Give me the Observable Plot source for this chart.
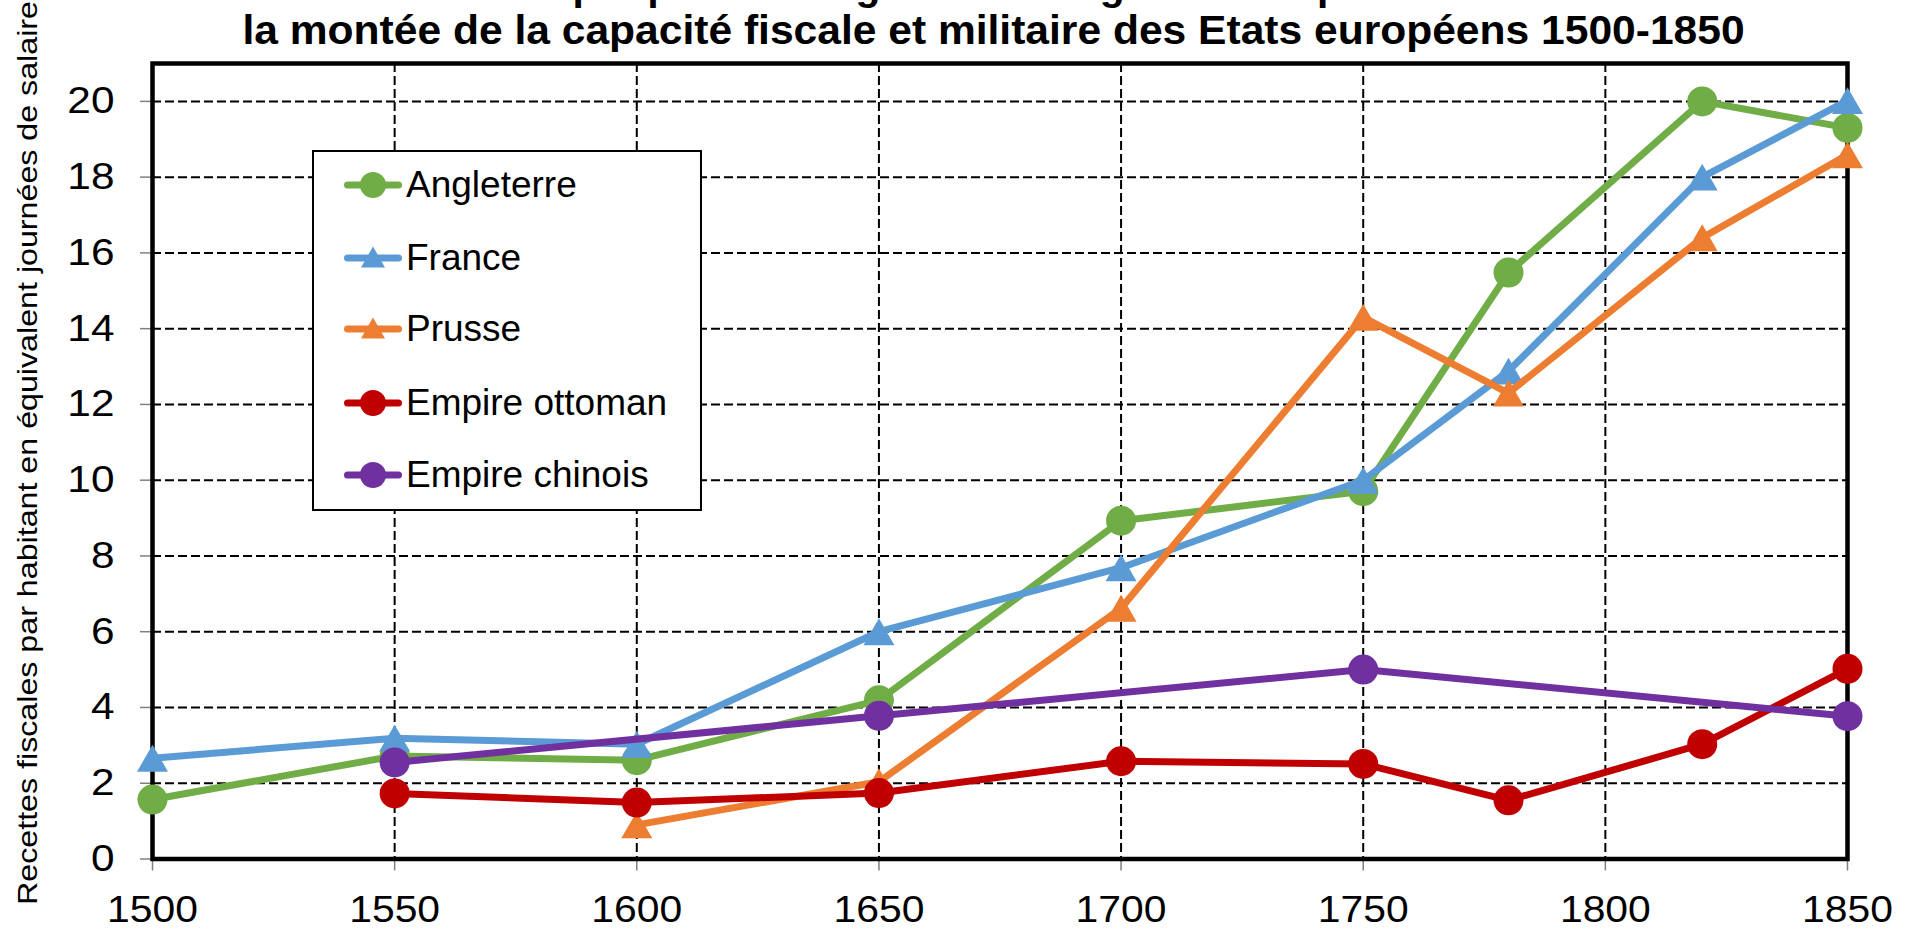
<!DOCTYPE html>
<html>
<head>
<meta charset="utf-8">
<script src="https://cdn.jsdelivr.net/npm/d3@7"></script>
<script src="https://cdn.jsdelivr.net/npm/@observablehq/plot@0.6"></script>
<style>
  html, body { margin: 0; padding: 0; background: #fff; }
  #wrap { position: relative; width: 1915px; height: 930px; overflow: hidden; font-family: "Liberation Sans", Arial, sans-serif; }
  #title { position: absolute; left: 140px; width: 1707px; top: 0; height: 52px; overflow: hidden; text-align: center; font-weight: bold; font-size: 40px; color: #000; }
  #title .inner { margin-top: -36px; line-height: 44px; white-space: nowrap; }
  #title .l1 { transform: scaleX(1.018); transform-origin: 50% 50%; }
  #title .l2 { transform: scaleX(1.064); transform-origin: 50% 50%; }
  #chart { position: absolute; left: 0; top: 52px; }
  #ylab { position: absolute; left: 28px; top: 453px; transform: translate(-50%, -50%) rotate(-90deg) scaleX(1.15); font-size: 28px; white-space: nowrap; color: #000; }
  #legend { position: absolute; left: 312px; top: 150px; width: 390px; height: 361px; box-sizing: border-box; border: 2px solid #000; background: #fff; }
  #legend .row { position: absolute; left: 0; height: 40px; width: 380px; }
  #legend .row svg { position: absolute; left: 30px; top: 5px; }
  #legend .row span { position: absolute; left: 92px; top: 0; line-height: 40px; font-size: 37px; white-space: nowrap; color: #000; }
</style>
</head>
<body>
<div id="wrap">
  <div id="title"><div class="inner" id="titleInner"></div></div>
  <div id="chart"></div>
  <div id="ylab"></div>
  <div id="legend"></div>
</div>
<script>
// ---- Data ----
const titleLines = [
  "Graphique 9.1. La grande divergence européenne :",
  "la montée de la capacité fiscale et militaire des Etats européens 1500-1850"
];
const yLabel = "Recettes fiscales par habitant en équivalent journées de salaire";
const years = [1500, 1550, 1600, 1650, 1700, 1750, 1780, 1820, 1850];
const seriesNames = ["Angleterre", "France", "Prusse", "Empire ottoman", "Empire chinois"];
const angleterre = [1.57, 2.72, 2.61, 4.19, 8.93, 9.71, 15.48, 20.0, 19.3];
const france     = [2.66, 3.19, 3.03, 6.0, 7.69, 10.0, 12.88, 18.0, 20.02];
const prusse     = [null, null, 0.9, 2.04, 6.62, 14.3, 12.3, 16.4, 18.59];
const ottoman    = [null, 1.73, 1.49, 1.74, 2.58, 2.51, 1.55, 3.03, 5.02];
const chinois    = [null, 2.55, null, 3.78, null, 5.0, null, null, 3.77];
const seriesValues = [angleterre, france, prusse, ottoman, chinois];
const seriesColors = ["#70AD47", "#5B9BD5", "#ED7D31", "#C00000", "#7030A0"];
const seriesSymbols = ["circle", "triangle", "triangle", "circle", "circle"];
const xTicks = [1500, 1550, 1600, 1650, 1700, 1750, 1800, 1850];
const yTicks = [0, 2, 4, 6, 8, 10, 12, 14, 16, 18, 20];

// ---- Build table ----
const rows = [];
seriesNames.forEach((name, i) => {
  seriesValues[i].forEach((v, j) => {
    if (v != null) rows.push({serie: name, year: years[j], value: v});
  });
});

// ---- Title / label ----
document.getElementById("titleInner").innerHTML = titleLines.map((t, i) => `<div class="l${i + 1}">${t}</div>`).join("");
document.getElementById("ylab").textContent = yLabel;

// ---- Chart ----
const seriesMarks = [];
seriesNames.forEach((name, i) => {
  const d = rows.filter(r => r.serie === name);
  seriesMarks.push(Plot.line(d, {x: "year", y: "value", stroke: seriesColors[i], strokeWidth: 7, strokeLinejoin: "round", strokeLinecap: "round"}));
  const tri = seriesSymbols[i] === "triangle";
  seriesMarks.push(Plot.dot(d, {x: "year", y: "value", fill: seriesColors[i], stroke: "none", symbol: seriesSymbols[i], r: tri ? 11.5 : 15, dy: tri ? 4.5 : 0}));
});

const chart = Plot.plot({
  width: 1915,
  height: 878,
  marginTop: 11,
  marginBottom: 71.5,
  marginLeft: 152,
  marginRight: 68,
  style: {fontFamily: "'Liberation Sans', Arial, sans-serif", fontSize: "38px", color: "#000", background: "transparent", overflow: "visible"},
  x: {domain: [1500, 1850]},
  y: {domain: [0, 21]},
  marks: [
    Plot.gridX(xTicks, {stroke: "#000", strokeOpacity: 1, strokeWidth: 2, strokeDasharray: "9,4"}),
    Plot.gridY(yTicks, {stroke: "#000", strokeOpacity: 1, strokeWidth: 2, strokeDasharray: "9,4"}),
    Plot.axisX(xTicks, {tickSize: 12, tickPadding: 24, stroke: "#808080", strokeWidth: 1.5, fill: "#000", fontSize: 37.5, tickFormat: d => String(d), label: null}),
    Plot.axisY(yTicks, {tickSize: 12, tickPadding: 26, stroke: "#808080", strokeWidth: 1.5, fill: "#000", fontSize: 37.5, label: null}),
    Plot.frame({stroke: "#000", strokeWidth: 4.5}),
    ...seriesMarks
  ]
});
document.getElementById("chart").appendChild(chart);

// widen tick labels horizontally (about their anchor) to match the reference glyph proportions
function stretch(sel, sx, anchor) {
  const svgRect = chart.getBoundingClientRect();
  chart.querySelectorAll(sel).forEach(t => {
    const parent = t.parentNode;
    const r = t.getBoundingClientRect();
    const m = parent.getCTM();
    const ax = (anchor === "end" ? r.right : r.left + r.width / 2) - svgRect.left - (m ? m.e : 0);
    const g = document.createElementNS("http://www.w3.org/2000/svg", "g");
    g.setAttribute("transform", `translate(${ax},0) scale(${sx},1) translate(${-ax},0)`);
    parent.insertBefore(g, t);
    g.appendChild(t);
  });
}
stretch('g[aria-label="x-axis tick label"] text', 1.09, "middle");
stretch('g[aria-label="y-axis tick label"] text', 1.13, "end");

// ---- Legend ----
const legend = document.getElementById("legend");
const rowCenters = [33, 106, 177, 251, 323];
seriesNames.forEach((name, i) => {
  const row = document.createElement("div");
  row.className = "row";
  row.style.top = (rowCenters[i] - 20) + "px";
  const tri = seriesSymbols[i] === "triangle";
  const marker = tri
    ? `<path d="M29,3.5 L41,24.5 L17,24.5 Z" fill="${seriesColors[i]}"/>`
    : `<circle cx="29" cy="15" r="13" fill="${seriesColors[i]}"/>`;
  row.innerHTML = `<svg width="58" height="30"><line x1="3.5" y1="15" x2="54.5" y2="15" stroke="${seriesColors[i]}" stroke-width="7" stroke-linecap="round"/>${marker}</svg><span>${name}</span>`;
  legend.appendChild(row);
});
</script>
</body>
</html>
